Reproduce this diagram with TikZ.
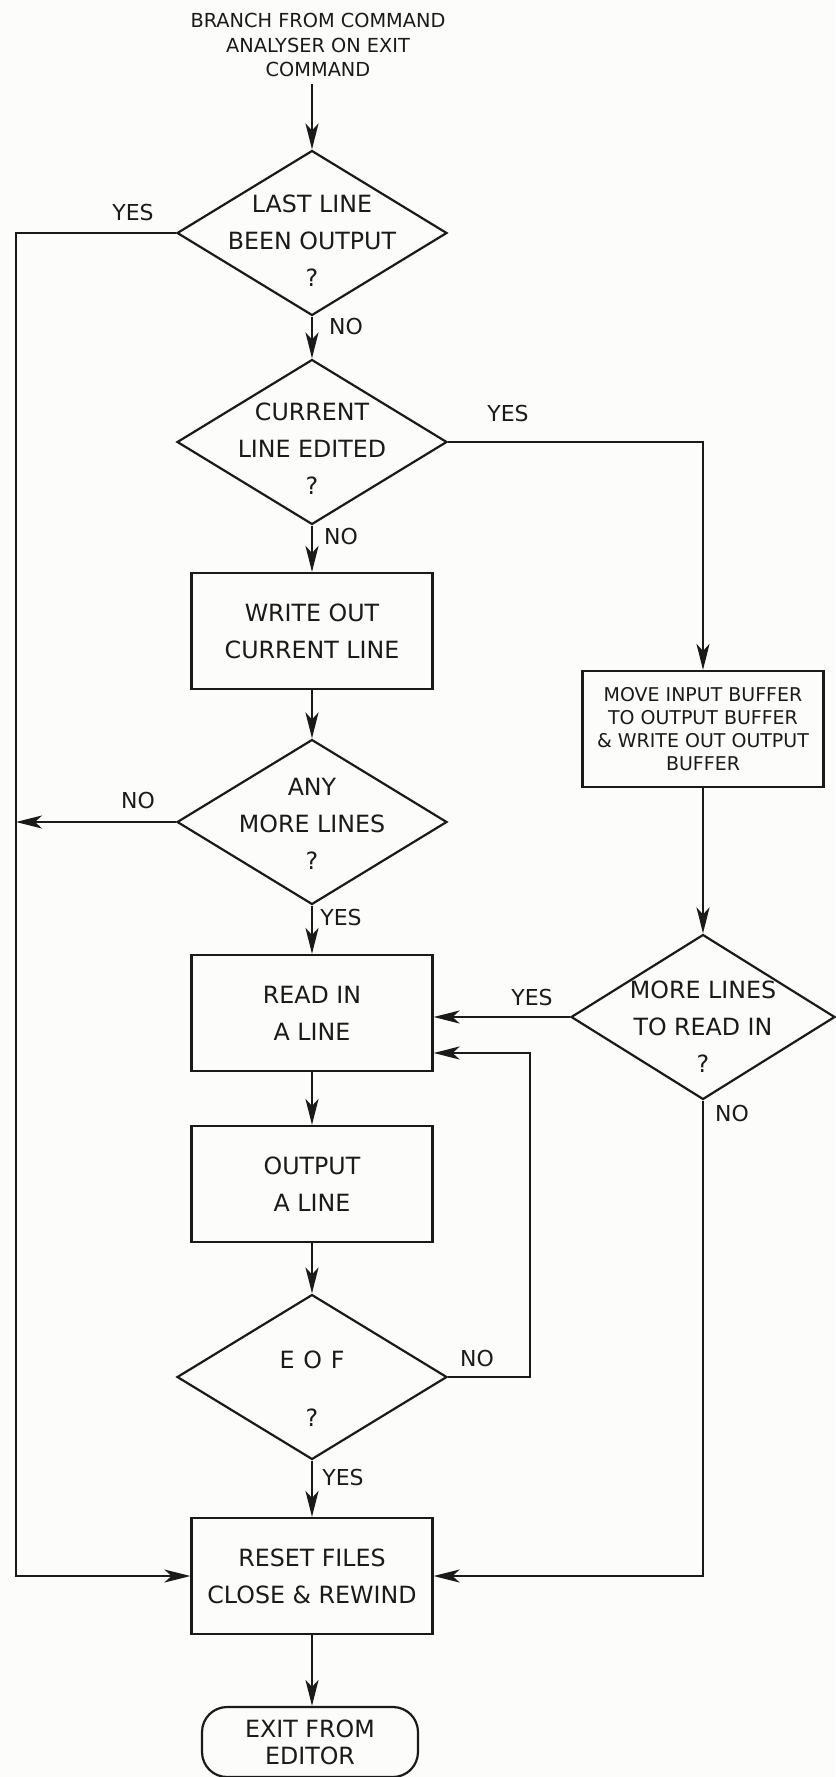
\documentclass[tikz,border=0pt]{standalone}
\usepackage{fontspec}
\setmainfont{DejaVu Sans}
\usetikzlibrary{arrows.meta,shapes.geometric,positioning}
\definecolor{Ink}{HTML}{1A1A1A}
\definecolor{Paper}{HTML}{FCFCFA}

\begin{document}
\begin{tikzpicture}[x=0.02cm,y=-0.02cm,color=Ink,line width=1.25pt,
  txt/.style={font=\fontsize{13.5}{21}\selectfont},
  decision/.style={diamond,draw,minimum width=5.4cm,minimum height=3.3cm,inner sep=0pt},
  process/.style={rectangle,draw,minimum width=4.82cm,minimum height=2.32cm,align=center,txt},
  terminal/.style={rectangle,rounded corners=0.5cm,draw,minimum width=4.32cm,minimum height=1.4cm,align=center,font=\fontsize{13.5}{15.5}\selectfont},
  flow/.style={-{Stealth[length=5.2mm,width=2.6mm,inset=1.4mm]}},
  answer/.style={font=\fontsize{12.5}{14}\selectfont}]
\fill[Paper] (0,0) rectangle (835,1777);
\useasboundingbox (0,0) rectangle (835,1777);
% main column
\node[align=center,font=\fontsize{11}{14.2}\selectfont] (entry) at (318,45) {BRANCH FROM COMMAND\\ANALYSER ON EXIT\\COMMAND};
\node[decision,label={[txt,align=center,yshift=-0.16cm]center:LAST LINE\\BEEN OUTPUT\\?}] (lastout) at (312,233) {};
\node[decision,label={[txt,align=center,yshift=-0.13cm]center:CURRENT\\LINE EDITED\\?}] (edited) at (312,442) {};
\node[process] (writeout) at (312,631) {WRITE OUT\\CURRENT LINE};
\node[decision,label={[txt,align=center,yshift=-0.04cm]center:ANY\\MORE LINES\\?}] (anymore) at (312,822) {};
\node[process] (readin) at (312,1013) {READ IN\\A LINE};
\node[process] (output) at (312,1184) {OUTPUT\\A LINE};
\node[decision,label={[txt,align=center,yshift=-0.23cm]center:E\hspace{5pt}O\hspace{5pt}F\\[12pt]?}] (eof) at (312,1377) {};
\node[process] (reset) at (312,1576) {RESET FILES\\CLOSE \& REWIND};
\node[terminal] (leave) at (310,1742) {EXIT FROM\\EDITOR};
% right column
\node[process,font=\fontsize{10.8}{13}\selectfont,inner sep=2pt] (movebuf) at (703,729) {MOVE INPUT BUFFER\\TO OUTPUT BUFFER\\\& WRITE OUT OUTPUT\\BUFFER};
\node[decision,minimum width=5.28cm,label={[txt,align=center,yshift=-0.2cm]center:MORE LINES\\TO READ IN\\?}] (morelines) at (703,1017) {};
\coordinate (rail) at (16,0);
\coordinate (loop) at (530,0);
% connectors
\draw[flow] (lastout.north |- entry.south) -- (lastout.north);
\draw[flow] (lastout.west) -- (rail |- lastout.west) |- (reset.west);
\draw[flow] (lastout) -- (edited);
\draw[flow] (edited.east) -| (movebuf.north);
\draw[flow] (edited) -- (writeout);
\draw[flow] (writeout) -- (anymore);
\draw[flow] (anymore.west) -- (rail |- anymore.west);
\draw[flow] (anymore) -- (readin);
\draw[flow] (movebuf) -- (morelines);
\draw[flow] (morelines.west) -- (morelines.west -| readin.east);
\draw[flow] (readin) -- (output);
\draw[flow] (output) -- (eof);
\draw[flow] (eof.east) -- (loop |- eof.east) |- ([yshift=-0.8cm]readin.east);
\draw[flow] (eof) -- (reset);
\draw[flow] (morelines.south) |- (reset.east);
\draw[flow] (reset) -- (leave.north -| reset.south);
% branch answers
\foreach \n/\x/\y/\t in {yes1/133/213/YES,no1/346/327/NO,yes2/508/414/YES,no2/341/537/NO,no3/138/800/NO,yes3/341/917/YES,yes4/532/997/YES,no4/732/1113/NO,no5/477/1358/NO,yes5/343/1477/YES}
  \node[answer] (\n) at (\x,\y) {\t};
\end{tikzpicture}
\end{document}
